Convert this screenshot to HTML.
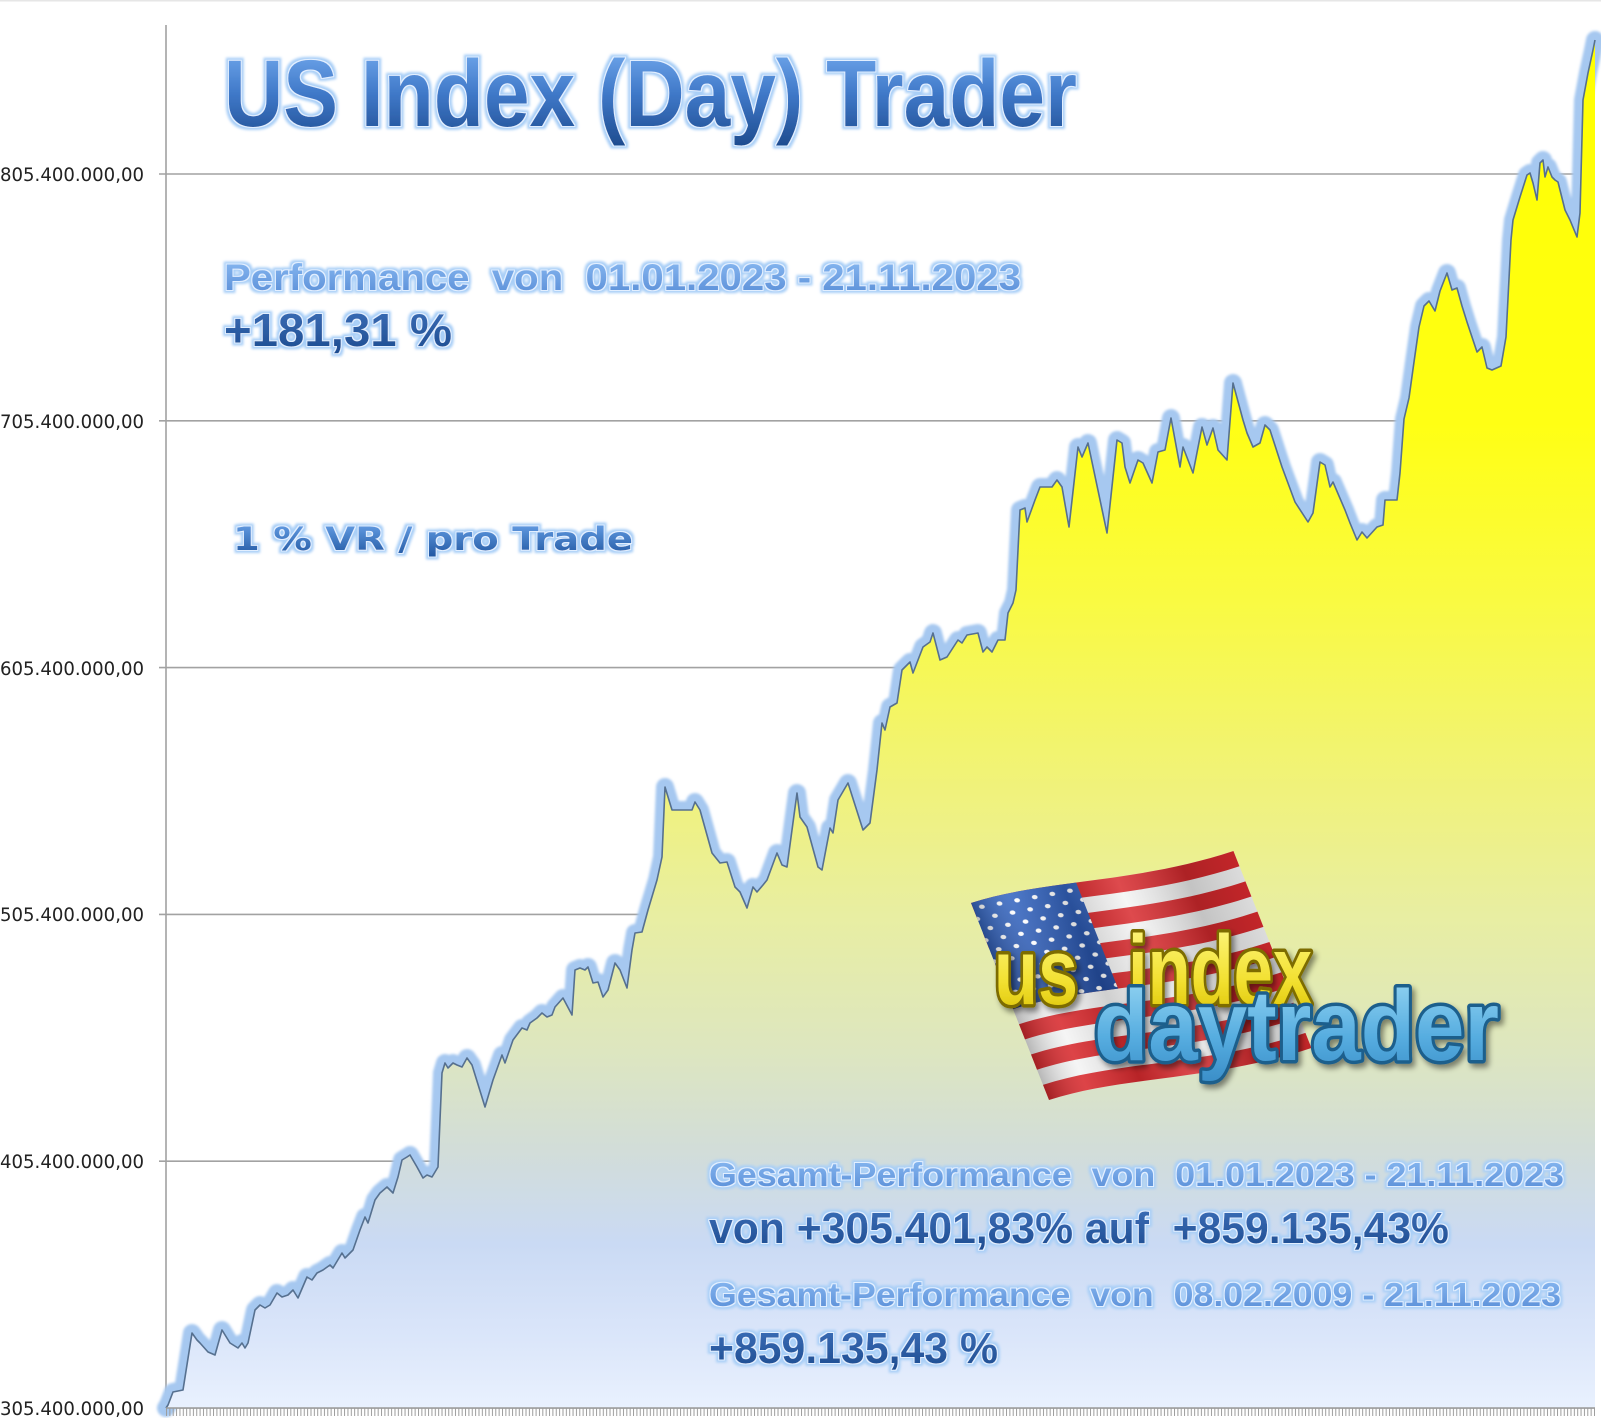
<!DOCTYPE html>
<html><head><meta charset="utf-8">
<style>
html,body{margin:0;padding:0;background:#fff;}
svg{display:block;}
text{white-space:pre;}
</style></head><body>
<svg width="1601" height="1418" viewBox="0 0 1601 1418" xmlns="http://www.w3.org/2000/svg">
<defs>
 <linearGradient id="fillG" gradientUnits="userSpaceOnUse" x1="0" y1="40" x2="0" y2="1408">
  <stop offset="0" stop-color="#ffff00"/>
  <stop offset="0.28" stop-color="#ffff14"/>
  <stop offset="0.41" stop-color="#f9fa42"/>
  <stop offset="0.55" stop-color="#f0f27c"/>
  <stop offset="0.64" stop-color="#e8eea2"/>
  <stop offset="0.74" stop-color="#dde6c0"/>
  <stop offset="0.81" stop-color="#d2ddd8"/>
  <stop offset="0.88" stop-color="#cadaf4"/>
  <stop offset="0.95" stop-color="#dbe6fa"/>
  <stop offset="1" stop-color="#e9f1fe"/>
 </linearGradient>
 <filter id="blur1" x="-5%" y="-5%" width="110%" height="110%"><feGaussianBlur stdDeviation="1.3"/></filter>
 <filter id="glow" x="-4%" y="-30%" width="108%" height="160%">
   <feMorphology in="SourceAlpha" operator="dilate" radius="3" result="d"/>
   <feGaussianBlur in="d" stdDeviation="1.3" result="b"/>
   <feFlood flood-color="#a9cff7"/>
   <feComposite in2="b" operator="in" result="g"/>
   <feMorphology in="SourceAlpha" operator="dilate" radius="1" result="d2"/>
   <feFlood flood-color="#e2efff"/>
   <feComposite in2="d2" operator="in" result="w"/>
   <feMerge><feMergeNode in="g"/><feMergeNode in="w"/><feMergeNode in="SourceGraphic"/></feMerge>
 </filter>
 <filter id="shadow" x="-10%" y="-20%" width="120%" height="150%">
   <feDropShadow dx="3" dy="4" stdDeviation="3" flood-color="#000" flood-opacity="0.45"/>
 </filter>
 <linearGradient id="gTitle" x1="0" y1="0" x2="0" y2="1">
  <stop offset="0" stop-color="#79b0f2"/><stop offset="0.5" stop-color="#3f78c8"/><stop offset="1" stop-color="#1d4b8e"/>
 </linearGradient>
 <linearGradient id="gLight" x1="0" y1="0" x2="0" y2="1">
  <stop offset="0" stop-color="#8abaf2"/><stop offset="1" stop-color="#578cd6"/>
 </linearGradient>
 <linearGradient id="gDark" x1="0" y1="0" x2="0" y2="1">
  <stop offset="0" stop-color="#3d70ba"/><stop offset="1" stop-color="#1c4a8e"/>
 </linearGradient>
 <linearGradient id="gMed" x1="0" y1="0" x2="0" y2="1">
  <stop offset="0" stop-color="#6aa4ea"/><stop offset="1" stop-color="#1f55a0"/>
 </linearGradient>
 <linearGradient id="gYel" x1="0" y1="0" x2="0" y2="1">
  <stop offset="0" stop-color="#fff98a"/><stop offset="0.6" stop-color="#f2e030"/><stop offset="1" stop-color="#d8bf00"/>
 </linearGradient>
 <linearGradient id="gBlu" x1="0" y1="0" x2="0" y2="1">
  <stop offset="0" stop-color="#9ad8f4"/><stop offset="0.6" stop-color="#56ade0"/><stop offset="1" stop-color="#3a8ec8"/>
 </linearGradient>
 <linearGradient id="gCanton" x1="0" y1="0" x2="1" y2="1">
  <stop offset="0" stop-color="#3a6cc8"/><stop offset="1" stop-color="#173a86"/>
 </linearGradient>
 <linearGradient id="gShade" x1="0" y1="0" x2="1" y2="0">
  <stop offset="0" stop-color="#000" stop-opacity="0.25"/>
  <stop offset="0.15" stop-color="#fff" stop-opacity="0.12"/>
  <stop offset="0.35" stop-color="#000" stop-opacity="0.15"/>
  <stop offset="0.55" stop-color="#fff" stop-opacity="0.15"/>
  <stop offset="0.8" stop-color="#000" stop-opacity="0.2"/>
  <stop offset="1" stop-color="#000" stop-opacity="0.1"/>
 </linearGradient>
 <clipPath id="cantonClip"><rect x="0" y="-10" width="40" height="80"/></clipPath>
 <pattern id="stars" patternUnits="userSpaceOnUse" x="0" y="0" width="6.67" height="10.8">
  <circle cx="3.33" cy="2.7" r="1.05" fill="#fff"/>
  <circle cx="0" cy="8.1" r="1.05" fill="#fff"/>
  <circle cx="6.67" cy="8.1" r="1.05" fill="#fff"/>
 </pattern>
 <pattern id="ticks" patternUnits="userSpaceOnUse" x="166" y="1408" width="3.36" height="10">
  <rect x="0" y="0" width="1" height="8" fill="#9c9c9c"/>
 </pattern>
 <path id="ln" d="M166,1408 L168,1405 173,1392 183,1390 192,1333 197,1340 200,1343 208,1352 215,1355 222,1330 230,1343 238,1348 242,1343 245,1348 248,1343 255,1310 260,1305 265,1308 270,1305 277,1293 282,1297 288,1295 293,1290 298,1298 307,1277 312,1280 317,1273 323,1270 330,1265 333,1268 342,1253 345,1258 353,1250 360,1230 365,1217 368,1223 375,1200 380,1193 387,1187 393,1193 398,1177 402,1160 407,1157 410,1155 417,1167 423,1178 427,1175 432,1177 438,1167 442,1073 445,1063 448,1068 453,1063 457,1065 462,1067 467,1058 472,1065 485,1107 493,1080 502,1055 505,1063 513,1040 522,1028 527,1030 530,1023 537,1018 542,1013 547,1017 552,1015 555,1007 563,998 572,1015 575,970 580,968 585,970 588,967 593,983 598,982 603,997 608,990 615,963 620,970 627,988 632,950 635,933 642,932 648,910 657,880 662,857 665,787 672,810 692,810 695,802 700,810 712,853 720,863 727,862 735,887 740,892 747,908 753,887 757,892 763,885 767,880 777,853 782,865 787,867 797,793 800,817 807,827 818,867 822,870 830,828 833,833 838,800 848,783 863,830 870,823 877,770 882,723 885,730 890,707 897,703 902,670 910,662 913,673 923,647 930,642 933,633 940,660 947,657 958,640 962,643 967,635 978,633 983,652 987,647 992,652 998,640 1005,640 1008,613 1013,603 1016,590 1020,510 1025,508 1027,522 1035,500 1040,487 1052,487 1057,480 1062,487 1069,527 1078,447 1082,457 1088,443 1107,533 1117,440 1122,443 1125,467 1130,483 1138,460 1143,463 1152,483 1158,452 1165,450 1171,418 1180,467 1183,447 1193,473 1202,427 1207,445 1213,428 1218,450 1227,460 1233,383 1243,420 1247,433 1253,447 1260,443 1265,425 1270,430 1282,467 1295,502 1308,522 1313,513 1320,462 1325,465 1330,487 1333,482 1345,510 1350,523 1357,540 1362,532 1367,538 1377,527 1383,525 1385,500 1397,500 1400,473 1404,419 1409,398 1414,362 1419,327 1424,306 1429,301 1435,311 1440,291 1447,273 1452,290 1457,288 1462,306 1467,322 1472,337 1477,352 1482,347 1487,368 1492,370 1501,366 1506,337 1511,240 1513,220 1520,197 1527,175 1530,173 1533,183 1537,200 1540,163 1543,160 1545,177 1548,167 1552,177 1555,180 1558,182 1565,210 1570,220 1577,237 1580,213 1583,100 1588,73 1593,50 1595,40"/>
</defs>

<!-- top faint border -->
<rect x="0" y="0" width="1601" height="1.5" fill="#e6e6e6"/>

<!-- gridlines -->
<g stroke="#a2a2a2" stroke-width="1.6">
 <line x1="159" y1="174" x2="1595" y2="174"/>
 <line x1="159" y1="420.8" x2="1595" y2="420.8"/>
 <line x1="159" y1="667.6" x2="1595" y2="667.6"/>
 <line x1="159" y1="914.4" x2="1595" y2="914.4"/>
 <line x1="159" y1="1161.2" x2="1595" y2="1161.2"/>
 <line x1="159" y1="1408" x2="1595" y2="1408"/>
 <line x1="166" y1="25" x2="166" y2="1410"/>
</g>

<!-- y labels -->
<g font-family="'DejaVu Sans', 'Liberation Sans', sans-serif" font-size="18.5" fill="#222">
 <text x="0" y="181" textLength="144" lengthAdjust="spacingAndGlyphs">805.400.000,00</text>
 <text x="0" y="428" textLength="144" lengthAdjust="spacingAndGlyphs">705.400.000,00</text>
 <text x="0" y="675" textLength="144" lengthAdjust="spacingAndGlyphs">605.400.000,00</text>
 <text x="0" y="921" textLength="144" lengthAdjust="spacingAndGlyphs">505.400.000,00</text>
 <text x="0" y="1168" textLength="144" lengthAdjust="spacingAndGlyphs">405.400.000,00</text>
 <text x="0" y="1415" textLength="144" lengthAdjust="spacingAndGlyphs">305.400.000,00</text>
</g>

<!-- series halo -->
<use href="#ln" fill="none" stroke="#a6c8f0" stroke-width="18" stroke-linejoin="round" stroke-linecap="round" filter="url(#blur1)"/>
<!-- area -->
<path fill="url(#fillG)" d="M166,1408 L168,1405 173,1392 183,1390 192,1333 197,1340 200,1343 208,1352 215,1355 222,1330 230,1343 238,1348 242,1343 245,1348 248,1343 255,1310 260,1305 265,1308 270,1305 277,1293 282,1297 288,1295 293,1290 298,1298 307,1277 312,1280 317,1273 323,1270 330,1265 333,1268 342,1253 345,1258 353,1250 360,1230 365,1217 368,1223 375,1200 380,1193 387,1187 393,1193 398,1177 402,1160 407,1157 410,1155 417,1167 423,1178 427,1175 432,1177 438,1167 442,1073 445,1063 448,1068 453,1063 457,1065 462,1067 467,1058 472,1065 485,1107 493,1080 502,1055 505,1063 513,1040 522,1028 527,1030 530,1023 537,1018 542,1013 547,1017 552,1015 555,1007 563,998 572,1015 575,970 580,968 585,970 588,967 593,983 598,982 603,997 608,990 615,963 620,970 627,988 632,950 635,933 642,932 648,910 657,880 662,857 665,787 672,810 692,810 695,802 700,810 712,853 720,863 727,862 735,887 740,892 747,908 753,887 757,892 763,885 767,880 777,853 782,865 787,867 797,793 800,817 807,827 818,867 822,870 830,828 833,833 838,800 848,783 863,830 870,823 877,770 882,723 885,730 890,707 897,703 902,670 910,662 913,673 923,647 930,642 933,633 940,660 947,657 958,640 962,643 967,635 978,633 983,652 987,647 992,652 998,640 1005,640 1008,613 1013,603 1016,590 1020,510 1025,508 1027,522 1035,500 1040,487 1052,487 1057,480 1062,487 1069,527 1078,447 1082,457 1088,443 1107,533 1117,440 1122,443 1125,467 1130,483 1138,460 1143,463 1152,483 1158,452 1165,450 1171,418 1180,467 1183,447 1193,473 1202,427 1207,445 1213,428 1218,450 1227,460 1233,383 1243,420 1247,433 1253,447 1260,443 1265,425 1270,430 1282,467 1295,502 1308,522 1313,513 1320,462 1325,465 1330,487 1333,482 1345,510 1350,523 1357,540 1362,532 1367,538 1377,527 1383,525 1385,500 1397,500 1400,473 1404,419 1409,398 1414,362 1419,327 1424,306 1429,301 1435,311 1440,291 1447,273 1452,290 1457,288 1462,306 1467,322 1472,337 1477,352 1482,347 1487,368 1492,370 1501,366 1506,337 1511,240 1513,220 1520,197 1527,175 1530,173 1533,183 1537,200 1540,163 1543,160 1545,177 1548,167 1552,177 1555,180 1558,182 1565,210 1570,220 1577,237 1580,213 1583,100 1588,73 1593,50 1595,40 L1595,1408 Z"/>
<!-- series line -->
<use href="#ln" fill="none" stroke="#56708f" stroke-width="1.6" stroke-linejoin="round"/>

<!-- x axis line & ticks -->
<line x1="166" y1="1408" x2="1595" y2="1408" stroke="#9a9a9a" stroke-width="1.6"/>
<rect x="166" y="1408" width="1429" height="8" fill="url(#ticks)"/>

<!-- Logo: flag -->
<g transform="matrix(2.64,-0.48,0.78,1.97,971,903)">
 <path d="M0,0 C30,-5 60,5 100,-2 L100,98 C60,105 30,95 0,100 Z" fill="#f4f4f4"/>
 <g fill="#d82a2e">
  <path d="M0,0 C30,-5 60,5 100,-2 L100,5.69 C60,12.69 30,2.69 0,7.69Z"/>
  <path d="M0,15.38 C30,10.38 60,20.38 100,13.38 L100,21.08 C60,28.08 30,18.08 0,23.08Z"/>
  <path d="M0,30.77 C30,25.77 60,35.77 100,28.77 L100,36.46 C60,43.46 30,33.46 0,38.46Z"/>
  <path d="M0,46.15 C30,41.15 60,51.15 100,44.15 L100,51.85 C60,58.85 30,48.85 0,53.85Z"/>
  <path d="M0,61.54 C30,56.54 60,66.54 100,59.54 L100,67.23 C60,74.23 30,64.23 0,69.23Z"/>
  <path d="M0,76.92 C30,71.92 60,81.92 100,74.92 L100,82.62 C60,89.62 30,79.62 0,84.62Z"/>
  <path d="M0,92.31 C30,87.31 60,97.31 100,90.31 L100,98 C60,105 30,95 0,100Z"/>
 </g>
 <g clip-path="url(#cantonClip)">
  <path d="M0,0 C30,-5 60,5 100,-2 L100,51.85 C60,58.85 30,48.85 0,53.85 Z" fill="url(#gCanton)"/>
  <path d="M0,0 C30,-5 60,5 100,-2 L100,51.85 C60,58.85 30,48.85 0,53.85 Z" fill="url(#stars)"/>
 </g>
 <path d="M0,0 C30,-5 60,5 100,-2 L100,98 C60,105 30,95 0,100 Z" fill="url(#gShade)"/>
</g>

<!-- Logo text -->
<g font-family="'Liberation Sans', sans-serif" font-weight="bold" filter="url(#shadow)" paint-order="stroke" stroke-linejoin="round">
 <text x="994" y="1004" font-size="94" textLength="84" lengthAdjust="spacingAndGlyphs" fill="url(#gYel)" stroke="#7d6c00" stroke-width="7">us</text>
 <text x="1128" y="1004" font-size="98" textLength="184" lengthAdjust="spacingAndGlyphs" fill="url(#gYel)" stroke="#7d6c00" stroke-width="7">index</text>
 <text x="1094" y="1060" font-size="100" textLength="405" lengthAdjust="spacingAndGlyphs" fill="url(#gBlu)" stroke="#1d5e8c" stroke-width="7">daytrader</text>
</g>

<!-- Main texts -->
<g font-family="'Liberation Sans', sans-serif" font-weight="bold" filter="url(#glow)">
 <text x="224" y="126" font-size="95" textLength="853" lengthAdjust="spacingAndGlyphs" fill="url(#gTitle)">US Index (Day) Trader</text>
 <text x="224" y="290" font-size="37" textLength="797" lengthAdjust="spacingAndGlyphs" fill="url(#gLight)">Performance  von  01.01.2023 - 21.11.2023</text>
 <text x="224" y="346" font-size="46" textLength="228" lengthAdjust="spacingAndGlyphs" fill="url(#gDark)">+181,31 %</text>
 <text x="233" y="550" font-size="32" font-family="'DejaVu Sans', 'Liberation Sans', sans-serif" textLength="400" lengthAdjust="spacingAndGlyphs" fill="url(#gMed)">1 % VR / pro Trade</text>
 <text x="709" y="1186" font-size="33" textLength="855" lengthAdjust="spacingAndGlyphs" fill="url(#gLight)">Gesamt-Performance  von  01.01.2023 - 21.11.2023</text>
 <text x="709" y="1243" font-size="44" textLength="740" lengthAdjust="spacingAndGlyphs" fill="url(#gDark)">von +305.401,83% auf  +859.135,43%</text>
 <text x="709" y="1306" font-size="33" textLength="852" lengthAdjust="spacingAndGlyphs" fill="url(#gLight)">Gesamt-Performance  von  08.02.2009 - 21.11.2023</text>
 <text x="709" y="1363" font-size="44" textLength="289" lengthAdjust="spacingAndGlyphs" fill="url(#gDark)">+859.135,43 %</text>
</g>
</svg>
</body></html>
